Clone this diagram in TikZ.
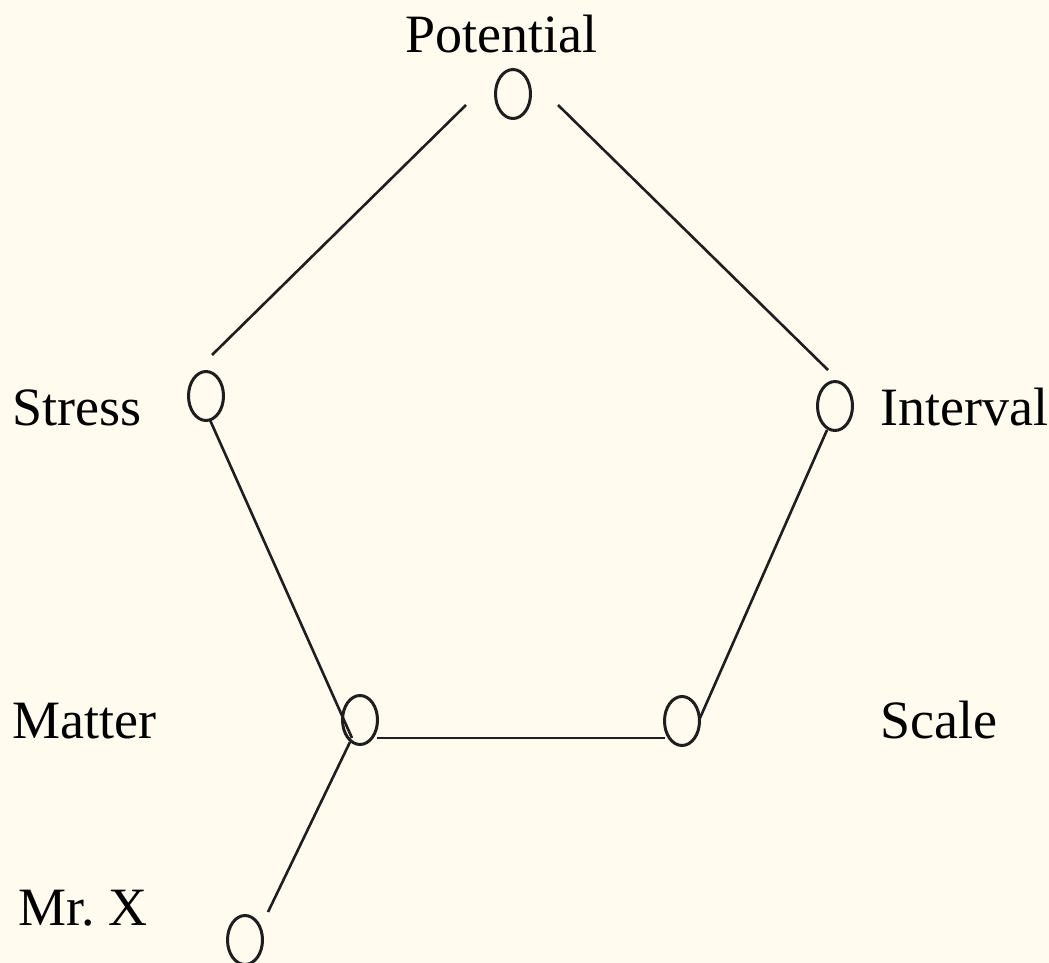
\documentclass[tikz,border=0pt]{standalone}
\usepackage{fontspec}
\setmainfont{Liberation Serif}
\usetikzlibrary{shapes.geometric}
\definecolor{bgcream}{RGB}{255,251,239}
\definecolor{inkgray}{RGB}{30,30,30}
\begin{document}
\begin{tikzpicture}[x=1pt,y=-1pt,
  vert/.style={draw=inkgray,line width=3pt,ellipse,minimum width=35pt,minimum height=49pt,inner sep=0pt},
  lbl/.style={inner sep=0pt,font=\fontsize{54}{62}\selectfont},
  edge/.style={draw=inkgray,line width=2.6pt}]
\fill[bgcream] (0,0) rectangle (1049,963);
\useasboundingbox (0,0) rectangle (1049,963);
\node[vert] (pot) at (513,94) {};
\node[vert] (st) at (206,396) {};
\node[vert] (int) at (835,406) {};
\node[vert] (mat) at (360,720) {};
\node[vert] (sc) at (682,721) {};
\node[vert] (mrx) at (245,940) {};
\node[lbl,anchor=base] (lpot) at (501,53) {Potential};
\node[lbl,anchor=base west] (lst) at (12,425) {Stress};
\node[lbl,anchor=base west] (lint) at (880,425) {Interval};
\node[lbl,anchor=base west] (lmat) at (12,738) {Matter};
\node[lbl,anchor=base west] (lsc) at (880,738) {Scale};
\node[lbl,anchor=base west] (lmrx) at (18,925) {Mr.\ X};
\draw[edge] ([shift={(-47,11)}]pot.center) -- ([shift={(6,-41)}]st.center);
\draw[edge] ([shift={(45,11)}]pot.center) -- ([shift={(-7,-36)}]int.center);
\draw[edge] ([shift={(4,24)}]st.center) -- ([shift={(-8,18)}]mat.center);
\draw[edge] ([shift={(-10,22)}]mat.center) -- ([shift={(23,-28)}]mrx.center);
\draw[edge] ([shift={(17,18)}]mat.center) -- ([shift={(-17,17)}]sc.center);
\draw[edge] ([shift={(-8,24)}]int.center) -- ([shift={(18,-3)}]sc.center);
\end{tikzpicture}
\end{document}
